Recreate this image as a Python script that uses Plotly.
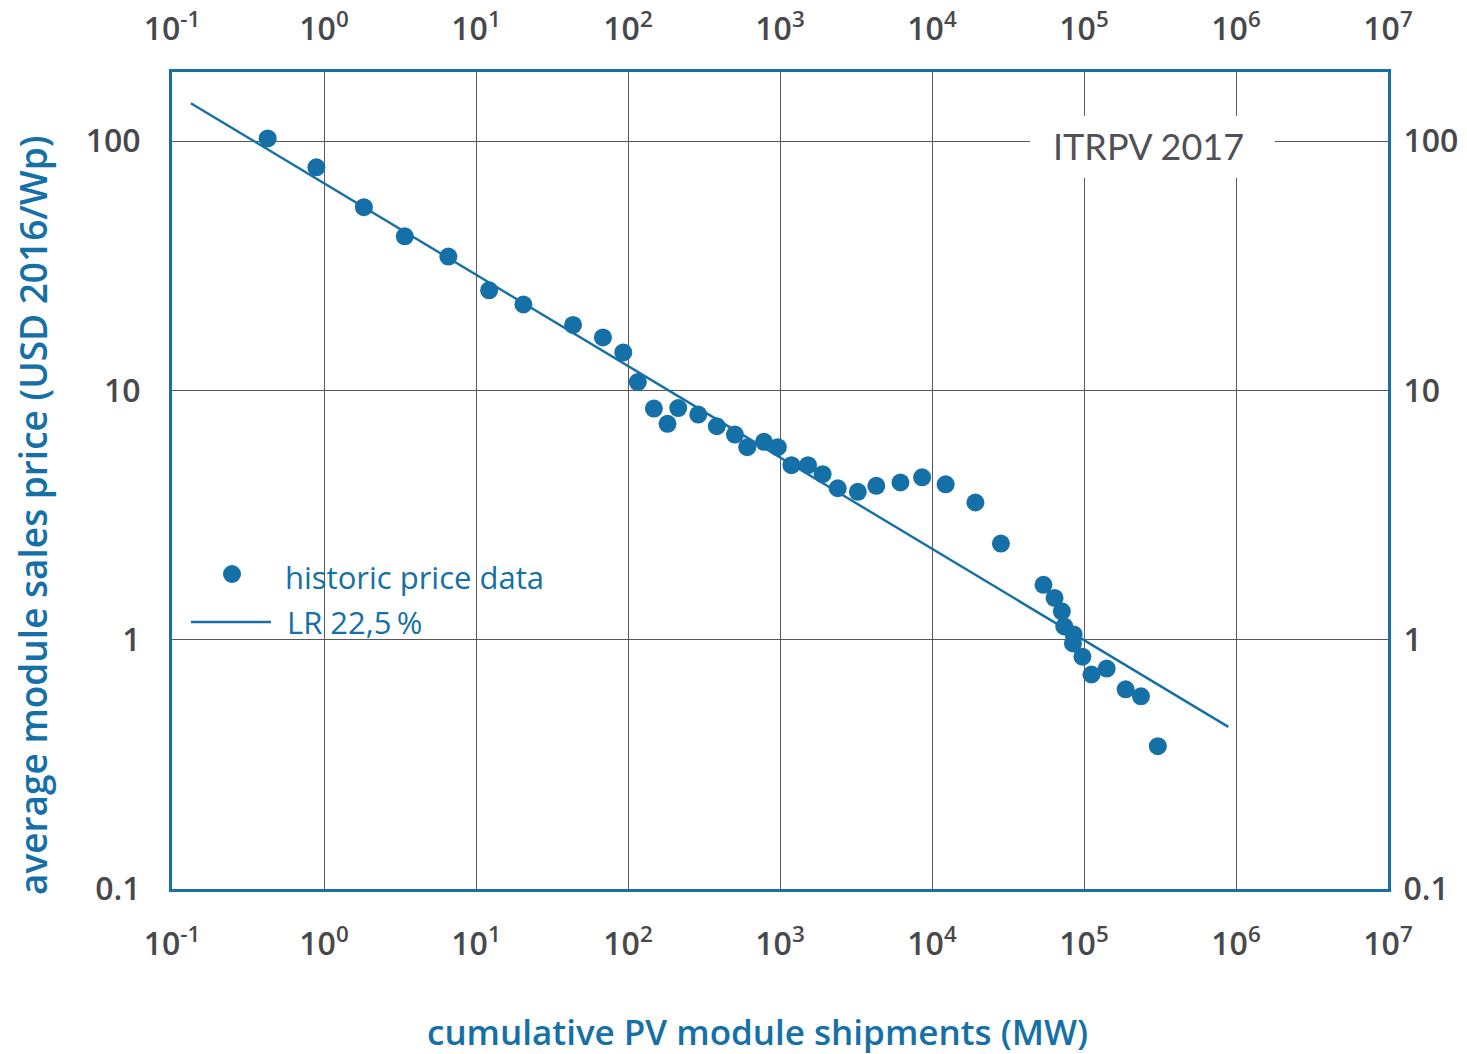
import plotly.graph_objects as go

# Cumulative PV module shipments (MW) and average module sales price (USD 2016/Wp)
shipments_mw = [
    0.426, 0.891, 1.83, 3.40, 6.58, 12.2, 20.5, 43.5, 68.4, 93.1,
    116, 148, 182, 214, 290, 384, 505, 609, 785, 967,
    1190, 1528, 1906, 2398, 3250, 4300, 6200, 8610, 12300, 19300,
    28400, 54100, 64000, 71500, 74200, 85500, 84600, 97600, 112000, 141000,
    188000, 237000, 306000,
]
price_usd_wp = [
    102.5, 78.5, 54.3, 41.5, 34.4, 25.2, 22.1, 18.3, 16.3, 14.2,
    10.8, 8.45, 7.34, 8.49, 8.0, 7.18, 6.65, 5.92, 6.22, 5.92,
    5.01, 5.01, 4.61, 4.05, 3.92, 4.14, 4.27, 4.48, 4.20, 3.55,
    2.43, 1.66, 1.47, 1.30, 1.13, 1.05, 0.966, 0.855, 0.725, 0.766,
    0.632, 0.593, 0.374,
]

# Learning-rate (22.5 %) fit line end points
lr_x = [0.133, 8.9e5]
lr_y = [141.8, 0.447]

x_tickvals = [0.1, 1, 10, 100, 1e3, 1e4, 1e5, 1e6, 1e7]
x_ticktext = ["10<sup>-1</sup>", "10<sup>0</sup>", "10<sup>1</sup>", "10<sup>2</sup>",
              "10<sup>3</sup>", "10<sup>4</sup>", "10<sup>5</sup>", "10<sup>6</sup>",
              "10<sup>7</sup>"]
y_tickvals = [0.1, 1, 10, 100]
y_ticktext = ["0.1", "1", "10", "100"]

BLUE = "#1570A8"
GRID = "#58585c"
TICK = "#47484c"
FONT = "Open Sans"

W, H = 1467, 1054
L, R, T, B = 172, 79, 72, 165
PW, PH = W - L - R, H - T - B


def px(xp):
    return (xp - L) / PW


def py(yp):
    return (H - B - yp) / PH


fig = go.Figure()

fig.add_trace(go.Scatter(
    x=lr_x, y=lr_y, mode="lines",
    line=dict(color=BLUE, width=2.4),
    showlegend=False, hoverinfo="skip",
))
fig.add_trace(go.Scatter(
    x=shipments_mw, y=price_usd_wp, mode="markers",
    marker=dict(color=BLUE, size=18, line=dict(width=0)),
    showlegend=False,
))
# carrier trace for the mirrored top/right axes
fig.add_trace(go.Scatter(
    x=lr_x, y=lr_y, xaxis="x2", yaxis="y2", mode="lines",
    line=dict(color="rgba(0,0,0,0)"), showlegend=False, hoverinfo="skip",
))

axis_font = dict(family=FONT, size=32, color=TICK, weight=600)
xcommon = dict(
    type="log", range=[-1, 7], tickvals=x_tickvals, ticktext=x_ticktext,
    tickfont=axis_font, ticks="outside", tickcolor="rgba(0,0,0,0)", automargin=False,
)
ycommon = dict(
    type="log", range=[-1, 2.277], tickvals=y_tickvals, ticktext=y_ticktext,
    tickfont=axis_font, ticks="outside", tickcolor="rgba(0,0,0,0)", automargin=False,
)

fig.update_layout(
    width=W, height=H, autosize=False,
    margin=dict(l=L, r=R, t=T, b=B, pad=0),
    paper_bgcolor="white", plot_bgcolor="white",
    font=dict(family=FONT, color=TICK),
    xaxis=dict(**xcommon, ticklen=25, side="bottom", showgrid=True, gridcolor=GRID,
               gridwidth=1.2, showline=True, linecolor=BLUE, linewidth=3, mirror=True,
               zeroline=False),
    yaxis=dict(**ycommon, ticklen=22, side="left", showgrid=True, gridcolor=GRID,
               gridwidth=1.2, showline=True, linecolor=BLUE, linewidth=3, mirror=True,
               zeroline=False),
    xaxis2=dict(**xcommon, ticklen=18, side="top", overlaying="x", anchor="y2",
                showgrid=False, showline=False, zeroline=False),
    yaxis2=dict(**ycommon, ticklen=8, side="right", overlaying="y", anchor="x2",
                showgrid=False, showline=False, zeroline=False),
)

# white panel behind the report label
fig.add_shape(type="rect", xref="paper", yref="paper",
              x0=px(1030), x1=px(1275), y0=py(178), y1=py(116),
              fillcolor="white", line=dict(width=0), layer="above")

# hand-placed legend
fig.add_shape(type="circle", xref="paper", yref="paper",
              x0=px(223), x1=px(241), y0=py(583), y1=py(565),
              fillcolor=BLUE, line=dict(width=0), layer="above")
fig.add_shape(type="line", xref="paper", yref="paper",
              x0=px(191), x1=px(271), y0=py(622), y1=py(622),
              line=dict(color=BLUE, width=2.4), layer="above")

annotations = [
    dict(text="ITRPV 2017", x=px(1148), y=py(146), xanchor="center", yanchor="middle",
         font=dict(family="Lato", size=36, color="#505055")),
    dict(text="historic price data", x=px(283), y=py(577), xanchor="left", yanchor="middle",
         font=dict(family=FONT, size=31, color=BLUE)),
    dict(text="LR 22,5\u2009%", x=px(285), y=py(622), xanchor="left", yanchor="middle",
         font=dict(family=FONT, size=31, color=BLUE)),
    dict(text="cumulative PV module shipments (MW)", x=px(757), y=py(1031),
         xanchor="center", yanchor="middle",
         font=dict(family=FONT, size=35, color=BLUE, weight=600)),
    dict(text="average module sales price (USD 2016/Wp)", x=px(32), y=py(515),
         xanchor="center", yanchor="middle", textangle=-90,
         font=dict(family=FONT, size=37, color=BLUE, weight=600)),
]
for a in annotations:
    a.update(xref="paper", yref="paper", showarrow=False)
    fig.add_annotation(**a)

fig.write_html("out.html")
